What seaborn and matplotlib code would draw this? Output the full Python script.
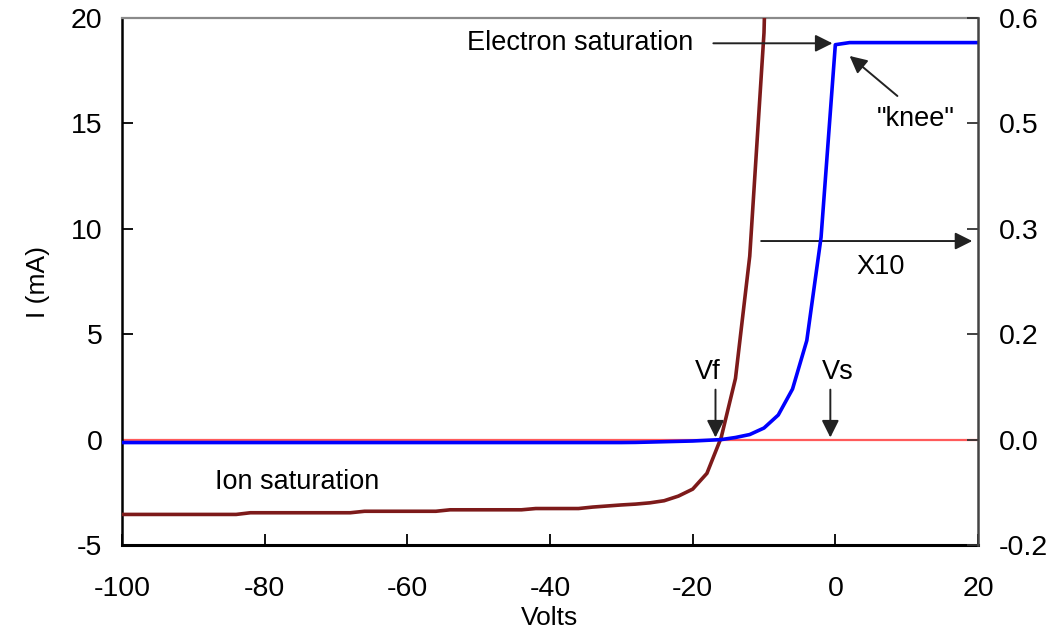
import matplotlib
matplotlib.use("Agg")
import matplotlib.pyplot as plt
import seaborn as sns

# ---- data ----
volts_brown = [-100, -98, -96, -94, -92, -90, -88, -86, -84, -82, -80, -78, -76, -74,
               -72, -70, -68, -66, -64, -62, -60, -58, -56, -54, -52, -50, -48, -46,
               -44, -42, -40, -38, -36, -34, -32, -30, -28, -26, -24, -22, -20, -18,
               -16, -14, -12, -10, -8]
current_ma = [-3.55, -3.55, -3.55, -3.55, -3.55, -3.55, -3.55, -3.55, -3.55, -3.47,
              -3.47, -3.47, -3.47, -3.47, -3.47, -3.47, -3.47, -3.40, -3.40, -3.40,
              -3.40, -3.40, -3.40, -3.33, -3.33, -3.33, -3.33, -3.33, -3.33, -3.27,
              -3.27, -3.27, -3.27, -3.20, -3.15, -3.10, -3.06, -3.00, -2.90, -2.68,
              -2.35, -1.60, 0.10, 2.90, 8.70, 19.30, 45.0]

volts_blue = [-100, -98, -96, -94, -92, -90, -88, -86, -84, -82, -80, -78, -76, -74,
              -72, -70, -68, -66, -64, -62, -60, -58, -56, -54, -52, -50, -48, -46,
              -44, -42, -40, -38, -36, -34, -32, -30, -28, -26, -24, -22, -20, -18,
              -16, -14, -12, -10, -8, -6, -4, -2, 0, 2, 4, 6, 8, 10, 12, 14, 16, 18, 20]
current_x10 = [-0.0042, -0.0042, -0.0042, -0.0042, -0.0042, -0.0042, -0.0042, -0.0042,
               -0.0042, -0.0042, -0.0042, -0.0042, -0.0042, -0.0042, -0.0042, -0.0042,
               -0.0042, -0.0042, -0.0042, -0.0042, -0.0042, -0.0042, -0.0042, -0.0042,
               -0.0042, -0.0042, -0.0042, -0.0042, -0.0042, -0.0042, -0.0042, -0.0042,
               -0.0042, -0.0042, -0.0042, -0.0042, -0.0040, -0.0035, -0.0030, -0.0025,
               -0.0020, -0.0010, 0.0000, 0.0030, 0.0072, 0.0165, 0.0350, 0.0720, 0.1410,
               0.2880, 0.5620, 0.5650, 0.5650, 0.5650, 0.5650, 0.5650, 0.5650, 0.5650,
               0.5650, 0.5650, 0.5650]

x_ticks = [-100, -80, -60, -40, -20, 0, 20]
left_ticks = [-5, 0, 5, 10, 15, 20]
right_ticks = [-0.15, 0.0, 0.15, 0.30, 0.45, 0.60]
right_labels = ["-0.2", "0.0", "0.2", "0.3", "0.5", "0.6"]

# ---- styling ----
sns.set_theme(style="white")
plt.rcParams["font.family"] = ["Liberation Sans", "DejaVu Sans"]
FS = 19.5      # annotation text
TFS = 20.5     # tick labels
LFS = 19       # axis labels

fig = plt.figure(figsize=(10.61, 6.31), dpi=100)
ax = fig.add_axes([122 / 1061, 1 - 545 / 631, (978 - 122) / 1061, (545 - 18) / 631])

ax.axhline(0, color="#ff5a5a", lw=1.6, zorder=1)
sns.lineplot(x=volts_brown, y=current_ma, ax=ax, color="#7d1a1a", lw=2.6,
             sort=False, estimator=None, zorder=3)
ax.set_xlim(-100, 20)
ax.set_ylim(-5, 20)
ax.set_xticks(x_ticks)
ax.set_xticklabels([str(v) for v in x_ticks])
ax.set_yticks(left_ticks)
ax.set_yticklabels([str(v) for v in left_ticks])
ax.tick_params(axis="both", direction="in", length=8, width=1.3, color="black",
               labelsize=TFS, labelcolor="black")
ax.tick_params(axis="x", pad=22)
ax.tick_params(axis="y", pad=14, left=True, right=False)
ax.tick_params(axis="x", bottom=True, top=False)
ax.set_xlabel("Volts", fontsize=LFS, labelpad=3, color="black")
ax.set_ylabel("I (mA)", fontsize=LFS, labelpad=15, color="black")

ax2 = ax.twinx()
sns.lineplot(x=volts_blue, y=current_x10, ax=ax2, color="#0000ff", lw=2.6,
             sort=False, estimator=None)
ax2.set_ylim(-0.15, 0.6)
ax2.set_yticks(right_ticks)
ax2.set_yticklabels(right_labels)
ax2.tick_params(axis="y", direction="in", length=8, width=1.3, color="#333333",
                labelsize=TFS, labelcolor="black", pad=15, right=True, left=False)
ax2.set_ylabel("")

for a in (ax, ax2):
    for s in a.spines.values():
        s.set_visible(False)
ax.spines["left"].set_visible(True)
ax.spines["left"].set_color("black")
ax.spines["left"].set_linewidth(1.8)
ax.spines["bottom"].set_visible(True)
ax.spines["bottom"].set_color("black")
ax.spines["bottom"].set_linewidth(2.2)
ax.spines["top"].set_visible(True)
ax.spines["top"].set_color("#8a8a8a")
ax.spines["top"].set_linewidth(1.6)
ax2.spines["right"].set_visible(True)
ax2.spines["right"].set_color("#444444")
ax2.spines["right"].set_linewidth(1.8)

# ---- annotations ----
arrow = dict(arrowstyle="-|>", mutation_scale=26, lw=1.4, color="#222222",
             shrinkA=0, shrinkB=0)
ax.annotate("", xy=(-0.4, 18.8), xytext=(-17.1, 18.8), arrowprops=arrow, zorder=5)
ax.text(-19.9, 18.8, "Electron saturation", ha="right", va="center", fontsize=FS,
        color="black")
ax.annotate("", xy=(2.0, 18.2), xytext=(8.7, 16.3), arrowprops=arrow, zorder=5)
ax.text(11.2, 15.2, '"knee"', ha="center", va="center", fontsize=FS, color="black")
ax.annotate("", xy=(19.2, 9.42), xytext=(-10.4, 9.42), arrowprops=arrow, zorder=5)
ax.text(6.3, 8.2, "X10", ha="center", va="center", fontsize=FS, color="black")
ax.annotate("", xy=(-16.8, 0.1), xytext=(-16.8, 2.37), arrowprops=arrow, zorder=5)
ax.text(-17.9, 3.2, "Vf", ha="center", va="center", fontsize=FS, color="black")
ax.annotate("", xy=(-0.7, 0.1), xytext=(-0.7, 2.37), arrowprops=arrow, zorder=5)
ax.text(0.4, 3.2, "Vs", ha="center", va="center", fontsize=FS, color="black")
ax.text(-86.9, -2.0, "Ion saturation", ha="left", va="center", fontsize=FS,
        color="black")

fig.savefig("out.png", dpi=100)
